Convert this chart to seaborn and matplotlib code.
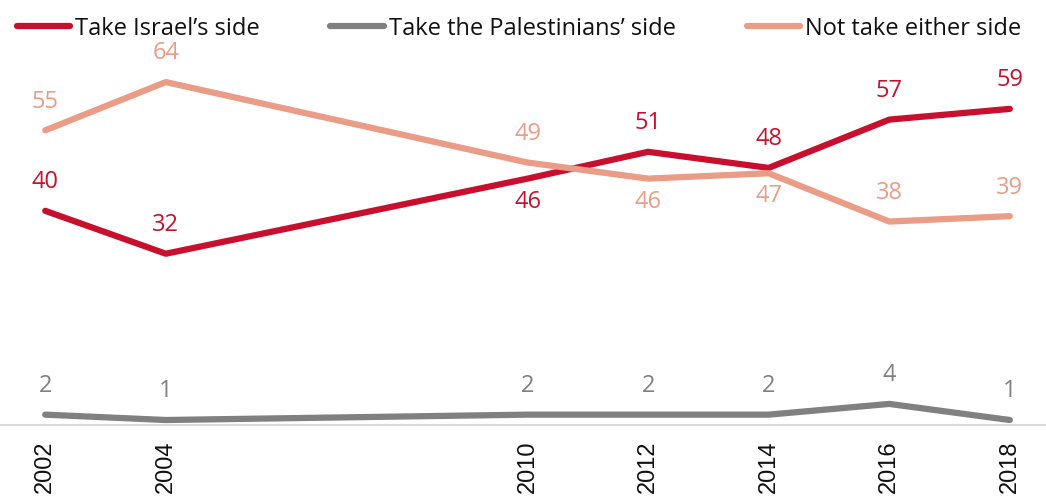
import matplotlib
matplotlib.use("Agg")
import matplotlib.pyplot as plt
import seaborn as sns
import pandas as pd

years = [2002, 2004, 2010, 2012, 2014, 2016, 2018]
israel = [40, 32, 46, 51, 48, 57, 59]
palestinians = [2, 1, 2, 2, 2, 4, 1]
neither = [55, 64, 49, 46, 47, 38, 39]

series_names = ["Take Israel\u2019s side", "Take the Palestinians\u2019 side", "Not take either side"]
colors = ["#C8102E", "#808080", "#EA9C86"]

# label placement per point: +1 above, -1 below
israel_pos = [1, 1, -1, 1, 1, 1, 1]
pal_pos = [1, 1, 1, 1, 1, 1, 1]
neither_pos = [1, 1, 1, -1, -1, 1, 1]

df = pd.DataFrame({
    "year": years * 3,
    "value": israel + palestinians + neither,
    "series": [series_names[0]] * 7 + [series_names[1]] * 7 + [series_names[2]] * 7,
})

sns.set_theme(style="white")
plt.rcParams["font.family"] = ["Open Sans", "DejaVu Sans"]

fig = plt.figure(figsize=(10.46, 5.04), dpi=100)
ax = fig.add_axes([0, 0.156, 1, 0.844])

sns.lineplot(data=df, x="year", y="value", hue="series", palette=colors,
             hue_order=series_names, linewidth=4.5, ax=ax, legend=False,
             solid_capstyle="round", solid_joinstyle="round")

for vals, pos, col in [(israel, israel_pos, colors[0]),
                       (palestinians, pal_pos, colors[1]),
                       (neither, neither_pos, colors[2])]:
    for x, v, p in zip(years, vals, pos):
        ax.annotate(str(v), (x, v), xytext=(0, 12 if p > 0 else -8),
                    textcoords="offset points",
                    ha="center", va="bottom" if p > 0 else "top",
                    fontsize=17, color=col)

ax.set_xlim(2001.25, 2018.6)
ax.set_ylim(0, 79.3)
ax.set_xticks(years)
ax.set_xticklabels([str(y) for y in years], rotation=90, fontsize=17,
                   family=["Liberation Sans", "DejaVu Sans"], color="#111111")
ax.tick_params(axis="x", length=0, pad=11)
ax.set_yticks([])
ax.set_xlabel("")
ax.set_ylabel("")
for side in ["top", "right", "left"]:
    ax.spines[side].set_visible(False)
ax.spines["bottom"].set_color("#D9D9D9")
ax.spines["bottom"].set_linewidth(1.5)
ax.patch.set_alpha(0)

handles = [plt.Line2D([], [], color=c, linewidth=4.5, solid_capstyle="round") for c in colors]
ax.legend(handles, series_names, loc="upper left", bbox_to_anchor=(0.0, 1.0),
          ncol=3, frameon=False, fontsize=17, handlelength=2.25, handletextpad=0.22,
          columnspacing=3.0, borderaxespad=0.3, labelcolor="#111111")

fig.savefig("out.png", dpi=100)
